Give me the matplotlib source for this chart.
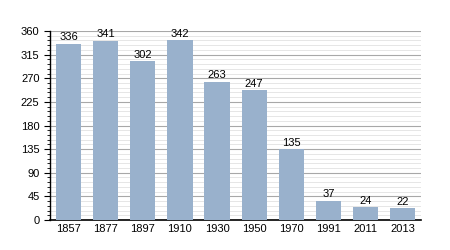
import numpy as np
import matplotlib.pyplot as plt
from matplotlib.ticker import MultipleLocator

plt.rcParams['font.family'] = ['Liberation Sans', 'DejaVu Sans']

years = ['1857', '1877', '1897', '1910', '1930', '1950', '1970', '1991', '2011', '2013']
population = [336, 341, 302, 342, 263, 247, 135, 37, 24, 22]

fig = plt.figure(figsize=(4.5, 2.5), dpi=100)
ax = fig.add_axes([0.111, 0.12, 0.825, 0.756])

x = np.arange(len(years))
ax.bar(x, population, width=0.68, color='#99b1cc', zorder=3)
for xi, v in zip(x, population):
    ax.text(xi, v + 3, str(v), ha='center', va='bottom', fontsize=8, zorder=4)

ax.set_xlim(-0.5, len(years) - 0.5)
ax.set_ylim(0, 360)
ax.set_xticks(x)
ax.set_xticklabels(years)
ax.yaxis.set_major_locator(MultipleLocator(45))
ax.yaxis.set_minor_locator(MultipleLocator(9))
ax.grid(axis='y', which='major', color='#a8a8a8', linewidth=0.8, zorder=0)
ax.grid(axis='y', which='minor', color='#e2e2e2', linewidth=0.6, zorder=0)

for s in ['top', 'right']:
    ax.spines[s].set_visible(False)
ax.spines['left'].set_linewidth(1)
ax.spines['bottom'].set_linewidth(1.2)
ax.tick_params(axis='x', length=0, labelsize=8, pad=3)
ax.tick_params(axis='y', which='major', length=4, labelsize=8)
ax.tick_params(axis='y', which='minor', length=2)

fig.savefig('out.png', dpi=100)
